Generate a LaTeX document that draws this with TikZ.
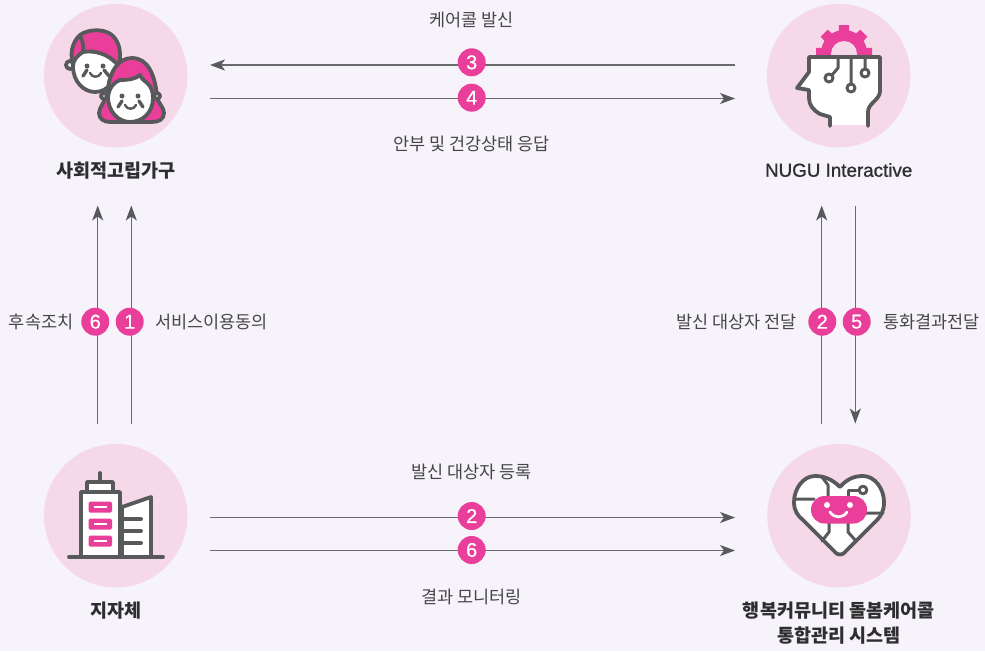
\documentclass[tikz,border=0pt]{standalone}
\usepackage{fontspec}
\setmainfont{Noto Sans CJK KR}
\newfontfamily\badgefont[FakeBold=0.6]{Liberation Sans}
\newfontfamily\nugufont[FakeBold=1]{Liberation Sans}
\usetikzlibrary{arrows.meta}
\definecolor{bgcol}{HTML}{F7F3FA}
\definecolor{circcol}{HTML}{F6D9E8}
\definecolor{pinkcol}{HTML}{E93E9A}
\definecolor{darkcol}{HTML}{58595B}
\definecolor{linecol}{HTML}{6A6A6C}
\definecolor{textcol}{HTML}{464648}
\tikzset{
  disc/.style={circle,fill=circcol,minimum size=143.5pt,inner sep=0pt},
  badge/.style={circle,fill=pinkcol,text=white,minimum size=28pt,inner sep=0pt,font=\badgefont\fontsize{20}{20}\selectfont},
  lab/.style={text=textcol,font=\fontsize{17.5}{20}\selectfont,inner sep=0pt},
  title/.style={text=black!82,font=\fontsize{18.5}{25}\selectfont\bfseries,inner sep=0pt,align=center},
  flow/.style={draw=linecol,line width=1.2pt,-{Stealth[length=15pt,width=11pt,inset=4pt,color=darkcol]}},
  icon/.style={draw=darkcol,line width=3.8pt,line join=round,line cap=round},
  wire/.style={icon,line width=3pt},
}
\begin{document}
\begin{tikzpicture}[x=1pt,y=-1pt]
\fill[bgcol] (0,0) rectangle (985,651);
\useasboundingbox (0,0) rectangle (985,651);

% discs
\node[disc] (elder) at (115.7,75.7) {};
\node[disc] (nugu) at (838.7,75.7) {};
\node[disc] (city) at (115.7,515.7) {};
\node[disc] (care) at (839,515.7) {};

% elder icon
\filldraw[icon,fill=white] (70,65) circle (4pt) (119,65) circle (4pt);
\filldraw[icon,fill=pinkcol] (74,68) .. controls (69,55) and (72,42) .. (80,35) .. controls (88,29) and (105,28) .. (113,36) .. controls (120,43) and (122,55) .. (118,68) -- cycle;
\draw[icon] (80,35) .. controls (82,40) and (84,45) .. (83,52);
\filldraw[icon,fill=white] (73,66) .. controls (73,82) and (84,92) .. (95,92) .. controls (108,92) and (117,80) .. (117,64) .. controls (108,54) and (95,50) .. (83,52) .. controls (78,55) and (73,60) .. (73,66) -- cycle;
\filldraw[icon,fill=pinkcol] (108,88) .. controls (110,72) and (118,58) .. (132,58) .. controls (148,58) and (155,75) .. (157,96) .. controls (158,104) and (164,107) .. (164,113) .. controls (164,119) and (159,122) .. (152,122) -- (110,122) .. controls (104,122) and (99,119) .. (99,113) .. controls (99,107) and (106,102) .. (108,88) -- cycle;
\filldraw[icon,fill=white] (104,96) circle (3pt) (157,96) circle (3pt);
\filldraw[icon,fill=white] (108,97) .. controls (109,88) and (114,82) .. (120,80) .. controls (128,80) and (136,79) .. (140,75) .. controls (141,78) and (143,80) .. (146,82) .. controls (151,86) and (153,91) .. (153,98) .. controls (153,112) and (143,122) .. (130,122) .. controls (118,122) and (108,111) .. (108,97) -- cycle;
\fill[darkcol] (87,66) circle (2.5pt) (103,66) circle (2.5pt) (122,96) circle (2.5pt) (138,96) circle (2.5pt);
\draw[wire,line width=2.4pt] (90,73) .. controls (92,78) and (99,78) .. (101,73) (125,105) .. controls (127,110) and (134,110) .. (136,105);
\draw[wire,line width=3.4pt] (87,70) -- (83,76) (104,70) -- (109,76) (122,101) -- (118,107) (139,101) -- (143,107);

% nugu icon
\begin{scope}
\clip (810,20) rectangle (880,56);
\fill[pinkcol] (844,53) circle (23pt);
\foreach \ang in {0,45,...,315}{
  \fill[pinkcol,rotate around={\ang:(844,53)}] (838,53) -- (839,25) -- (849,25) -- (850,53) -- cycle;
}
\fill[circcol] (844,54) circle (13pt);
\end{scope}
\fill[white] (809,57) -- (880,57) -- (880,93) -- (868,108) -- (868,125) -- (830,125) -- (830,117) -- (818,112) -- (809,100) -- (809,90) -- (797,88) -- (809,72) -- cycle;
\draw[icon] (830,126) -- (830,117) -- (820,114) .. controls (813,110) and (809,105) .. (809,98) -- (809,90) -- (797,88) -- (809,72) -- (809,57) -- (880,57) -- (880,91) .. controls (880,100) and (868,103) .. (868,112) -- (868,126);
\draw[wire] (851,57) -- (851,83) (865,57) -- (865,68) (838,57) -- (838,68) -- (832,75);
\draw[wire,fill=white] (829,78) circle (4pt) (851,88) circle (4pt) (865,73) circle (4pt);

% city icon
\draw[icon] (100,473) -- (100,482);
\filldraw[icon,fill=white] (87,492) -- (87,482) -- (113,482) -- (113,492);
\filldraw[icon,fill=white] (81,557) -- (81,492) -- (120,492) -- (120,557);
\filldraw[icon,fill=white] (122,507) -- (151,497) -- (151,557) -- (122,557) -- cycle;
\draw[icon] (122,519) -- (141,519) (122,531) -- (141,531) (122,543) -- (141,543);
\draw[icon] (69,557) -- (163,557);
\foreach \wy in {501.5,518.5,535.5}{
  \fill[pinkcol,rounded corners=1.5pt] (88.5,\wy) rectangle (112,\wy+11);
  \fill[white] (93.5,\wy+4) rectangle (107,\wy+6.8);
}

% care icon
\filldraw[icon,fill=white] (840,487) .. controls (833,480) and (825,476) .. (815,476) .. controls (803,476) and (794,489) .. (794,502) .. controls (794,511) and (798,516) .. (803,520) -- (836,553) .. controls (838,555) and (842,555) .. (844,553) -- (877,520) .. controls (881,516) and (884,511) .. (884,502) .. controls (884,489) and (875,476) .. (863,476) .. controls (853,476) and (846,480) .. (840,487) -- cycle;
\draw[wire] (822,477) -- (828,485) -- (828,496) (795,499) -- (814,499) (866,513) -- (883,513);
\draw[wire] (829,522) -- (829,532) -- (822,541) (848,522) -- (848,532) -- (856,541);
\draw[wire] (848,496) -- (848,490) -- (860,490);
\draw[wire,fill=white] (863,490) circle (3.8pt);
\fill[pinkcol,rounded corners=13.5pt] (811,496) rectangle (867,523.5);
\fill[white] (827,505) circle (3pt) (850,505) circle (3pt);
\draw[white,line width=2.7pt,line cap=round] (830,512) .. controls (834,518.5) and (843,518.5) .. (847,512);

% titles
\node[title] (elderT) at (115.7,170.5) {사회적고립가구};
\node[title,font=\nugufont\fontsize{18.8}{24}\selectfont] (nuguT) at (838.7,170) {NUGU Interactive};
\node[title] (cityT) at (115.7,610.5) {지자체};
\node[title] (careT) at (838.7,623.5) {행복커뮤니티 돌봄케어콜\\통합관리 시스템};

% horizontal connectors
\coordinate (e1) at (210,65); \coordinate (n1) at (735,65);
\coordinate (e2) at (210,98.5); \coordinate (n2) at (735,98.5);
\coordinate (c1) at (210,517.5); \coordinate (k1) at (735,517.5);
\coordinate (c2) at (210,550.5); \coordinate (k2) at (735,550.5);
\draw[flow] (n1) -- (e1);
\draw[flow] (e2) -- (n2);
\draw[flow] (c1) -- (k1);
\draw[flow] (c2) -- (k2);

% vertical connectors
\coordinate (v1a) at (97.7,423.5); \coordinate (v1b) at (97.7,205.5);
\coordinate (v2a) at (131.3,423.5); \coordinate (v2b) at (131.3,205.5);
\coordinate (v3a) at (821.7,423.5); \coordinate (v3b) at (821.7,205.5);
\coordinate (v4a) at (855.3,205.5); \coordinate (v4b) at (855.3,423.5);
\draw[flow] (v1a) -- (v1b);
\draw[flow] (v2a) -- (v2b);
\draw[flow] (v3a) -- (v3b);
\draw[flow] (v4a) -- (v4b);

% badges
\node[badge] (b3) at (471.7,62.3) {3};
\node[badge] (b4) at (471.7,97.7) {4};
\node[badge] (b2) at (471.7,516) {2};
\node[badge] (b6) at (471.7,550) {6};
\node[badge] (l6) at (95.3,321.7) {6};
\node[badge] (l1) at (129.7,321.7) {1};
\node[badge] (r2) at (822.3,321.7) {2};
\node[badge] (r5) at (856.7,321.7) {5};

% labels
\node[lab] (t3) at (471.7,20) {케어콜 발신};
\node[lab] (t4) at (471.7,144) {안부 및 건강상태 응답};
\node[lab] (t2) at (471.7,472) {발신 대상자 등록};
\node[lab] (t6) at (471.7,596.5) {결과 모니터링};
\node[lab,anchor=east] (tl6) at (73.5,322) {후속조치};
\node[lab,anchor=west] (tl1) at (155,322) {서비스이용동의};
\node[lab,anchor=east] (tr2) at (797,322) {발신 대상자 전달};
\node[lab,anchor=west] (tr5) at (883,322) {통화결과전달};
\end{tikzpicture}
\end{document}
